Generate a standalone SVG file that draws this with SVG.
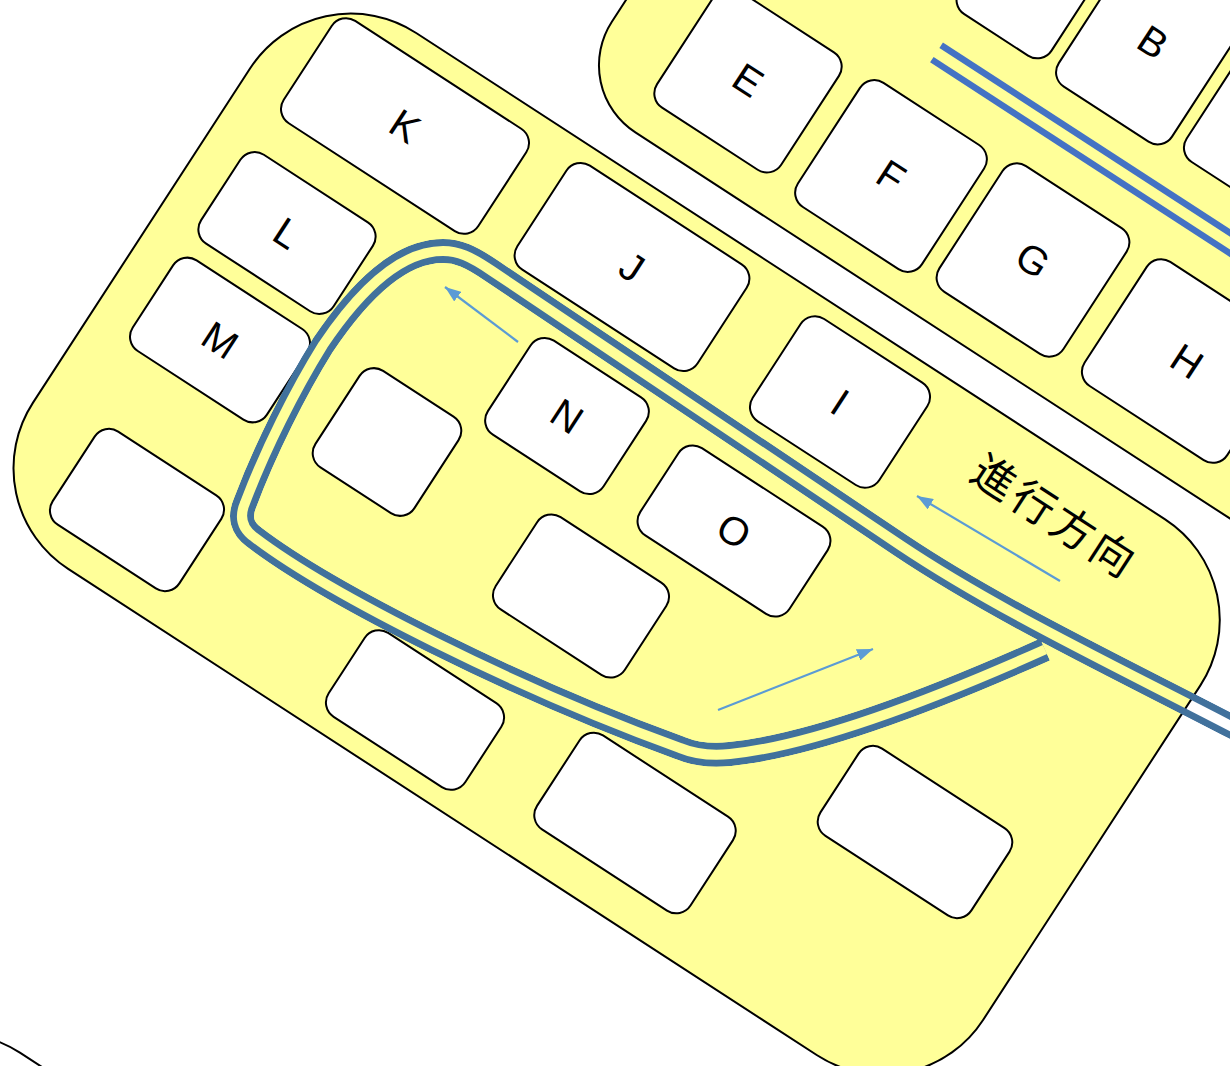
<svg xmlns="http://www.w3.org/2000/svg" width="1230" height="1066" viewBox="0 0 1230 1066">
<style>
.slab{fill:#FFFF99;stroke:#000;stroke-width:2}
.slabw{fill:#fff;stroke:#000;stroke-width:2}
.key{fill:#fff;stroke:#000;stroke-width:2}
.lbl{font-family:"Liberation Sans",Arial,sans-serif;font-size:40px;fill:#000;text-anchor:middle}
.arrow{stroke:#5B9BD5;stroke-width:2.2;fill:none;marker-end:url(#ah)}
.rail{stroke:#4472C4;stroke-width:6.5;fill:none}
</style>
<defs>
<marker id="ah" markerUnits="userSpaceOnUse" viewBox="0 0 16 12" markerWidth="16" markerHeight="12" refX="16" refY="6" orient="auto">
<path d="M0,0 L16,6 L0,12 z" fill="#5B9BD5"/>
</marker>
<path id="track" d="M 1250 736 C 1120 668, 1000 612, 900 545 L 492 271 C 470 256, 458 251, 443 251 C 400 251, 360 290, 323 345 C 295 390, 265 450, 245 503 Q 236 524, 254 537 C 330 595, 520 690, 680 748 Q 702 757, 730 754 C 820 745, 950 692, 1045 649.5"/>
<mask id="trackMask" maskUnits="userSpaceOnUse" x="0" y="0" width="1230" height="1066">
<use href="#track" fill="none" stroke="#fff" stroke-width="24" stroke-linejoin="round"/>
<use href="#track" fill="none" stroke="#000" stroke-width="10" stroke-linejoin="round"/>
</mask>
</defs>

<g id="slab-lower"><rect class="slabw" x="470" y="872" width="1500" height="800" rx="120" transform="rotate(33)"/></g>
<g id="slab-upper"><rect class="slab" x="525" y="-1000" width="1500" height="765" rx="80" transform="rotate(33)"/></g>
<g id="slab-main"><rect class="slab" x="247" y="-199" width="1133" height="639" rx="120" transform="rotate(33)"/></g>

<g id="key-X" transform="translate(1037,-28) rotate(33)"><rect class="key" x="-55" y="-75" width="110" height="150" rx="17"/></g>
<g id="key-B" transform="translate(1153,42) rotate(33)"><rect class="key" x="-67.5" y="-86" width="135" height="172" rx="17"/><text class="lbl" y="14">B</text></g>
<g id="key-Y" transform="translate(1277,128) rotate(33)"><rect class="key" x="-70" y="-75" width="140" height="150" rx="17"/></g>
<g id="key-E" transform="translate(748,80) rotate(33)"><rect class="key" x="-74" y="-70" width="148" height="140" rx="17"/><text class="lbl" y="14">E</text></g>
<g id="key-F" transform="translate(891,176) rotate(33)"><rect class="key" x="-74" y="-74" width="148" height="148" rx="17"/><text class="lbl" y="14">F</text></g>
<g id="key-G" transform="translate(1033,260) rotate(33)"><rect class="key" x="-74" y="-75" width="148" height="150" rx="17"/><text class="lbl" y="14">G</text></g>
<g id="key-H" transform="translate(1187,361) rotate(33)"><rect class="key" x="-85" y="-74" width="170" height="148" rx="17"/><text class="lbl" y="14">H</text></g>

<g id="key-K" transform="translate(405,126) rotate(33)"><rect class="key" x="-116" y="-61" width="232" height="122" rx="17"/><text class="lbl" y="14">K</text></g>
<g id="key-L" transform="translate(287,233) rotate(33)"><rect class="key" x="-79" y="-53" width="158" height="106" rx="17"/><text class="lbl" y="14">L</text></g>
<g id="key-M" transform="translate(220,340) rotate(33)"><rect class="key" x="-80" y="-54" width="160" height="108" rx="17"/><text class="lbl" y="14">M</text></g>
<g id="key-P" transform="translate(137,510) rotate(33)"><rect class="key" x="-75.5" y="-55.5" width="151" height="111" rx="17"/></g>
<g id="key-Q" transform="translate(387,442) rotate(33)"><rect class="key" x="-59" y="-57.5" width="118" height="115" rx="17"/></g>
<g id="key-J" transform="translate(632,267) rotate(33)"><rect class="key" x="-107.5" y="-62" width="215" height="124" rx="17"/><text class="lbl" y="14">J</text></g>
<g id="key-N" transform="translate(567,416) rotate(33)"><rect class="key" x="-69" y="-56" width="138" height="112" rx="17"/><text class="lbl" y="14">N</text></g>
<g id="key-I" transform="translate(840,402) rotate(33)"><rect class="key" x="-75.5" y="-61" width="151" height="122" rx="17"/><text class="lbl" y="14">I</text></g>
<g id="key-O" transform="translate(734,531) rotate(33)"><rect class="key" x="-89" y="-52" width="178" height="104" rx="17"/><text class="lbl" y="14">O</text></g>
<g id="key-R" transform="translate(581,596) rotate(33)"><rect class="key" x="-77" y="-55" width="154" height="110" rx="17"/></g>
<g id="key-S" transform="translate(415,710) rotate(33)"><rect class="key" x="-81.5" y="-50" width="163" height="100" rx="17"/></g>
<g id="key-T" transform="translate(635,823) rotate(33)"><rect class="key" x="-91.5" y="-56" width="183" height="112" rx="17"/></g>
<g id="key-U" transform="translate(915,832) rotate(33)"><rect class="key" x="-90" y="-52" width="180" height="104" rx="17"/></g>

<g id="connectors">
<g transform="rotate(33)">
<line class="rail" x1="814" y1="-474.6" x2="1300" y2="-474.6"/>
<line class="rail" x1="814" y1="-457.5" x2="1300" y2="-457.5"/>
</g>
<use href="#track" fill="none" stroke="#41719C" stroke-width="24" stroke-linejoin="round" mask="url(#trackMask)"/>
<line class="arrow" x1="518" y1="342" x2="445" y2="287"/>
<line class="arrow" x1="1060" y1="581" x2="917" y2="496"/>
<line class="arrow" x1="718" y1="710" x2="873" y2="649"/>
</g>

<g id="label-direction"><text transform="translate(1057,514) rotate(33)" font-family="'Noto Sans CJK JP','Noto Sans CJK SC',sans-serif" font-size="43" letter-spacing="4" text-anchor="middle" dominant-baseline="central" fill="#000">進行方向</text></g>
</svg>
